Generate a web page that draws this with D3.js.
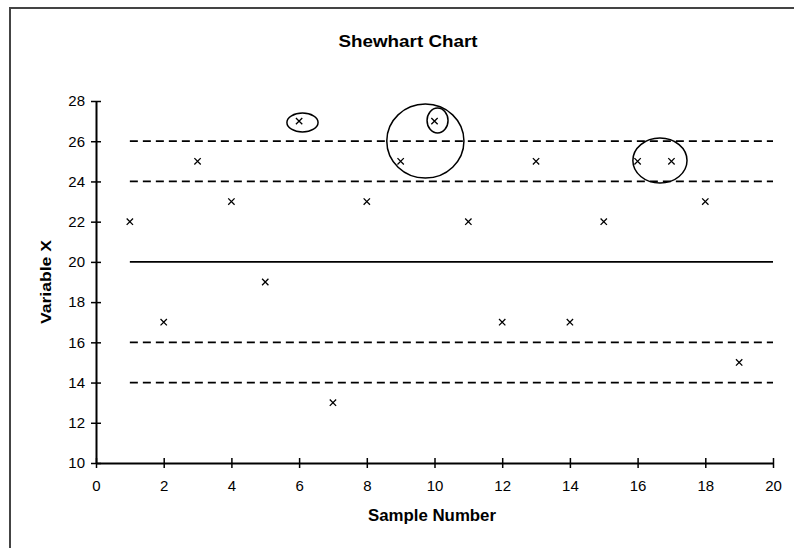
<!DOCTYPE html>
<html>
<head>
<meta charset="utf-8">
<script src="https://cdn.jsdelivr.net/npm/d3@7"></script>
<style>
  html, body { margin: 0; padding: 0; background: #fff; }
  svg { display: block; }
  text { font-family: "Liberation Sans", Arial, sans-serif; fill: #000; }
</style>
</head>
<body>
<svg id="chart" width="794" height="548"></svg>
<script>
// Sample numbers and measured values of variable X
const samples = [1, 2, 3, 4, 5, 6, 7, 8, 9, 10, 11, 12, 13, 14, 15, 16, 17, 18, 19];
const values  = [22, 17, 25, 23, 19, 27, 13, 23, 25, 27, 22, 17, 25, 17, 22, 25, 25, 23, 15];

// Centre line and control / warning limits
const centerLine = 20;
const limitLevels = [26, 24, 16, 14];
const lineStart = 1, lineEnd = 20;

// Axis ticks
const xTicks = [0, 2, 4, 6, 8, 10, 12, 14, 16, 18, 20];
const yTicks = [10, 12, 14, 16, 18, 20, 22, 24, 26, 28];

// Hand-drawn highlight rings, in data units: centre x, centre y, radius x, radius y
const ringCx = [6.1, 9.73, 10.09, 16.66];
const ringCy = [26.93, 26.01, 27.03, 25.04];
const ringRx = [0.46, 1.14, 0.31, 0.80];
const ringRy = [0.47, 1.84, 0.62, 1.12];

const svg = d3.select("#chart");

// Outer frame (runs off the right and bottom edges)
svg.append("rect")
  .attr("x", 10).attr("y", 8)
  .attr("width", 800).attr("height", 560)
  .attr("fill", "none").attr("stroke", "#444").attr("stroke-width", 2);

const x = d3.scaleLinear().domain([0, 20]).range([96, 773]);
const y = d3.scaleLinear().domain([10, 28]).range([463, 101]);

// Title
svg.append("text")
  .attr("x", 408).attr("y", 47)
  .attr("text-anchor", "middle")
  .attr("font-weight", "bold").attr("font-size", 17)
  .attr("textLength", 139).attr("lengthAdjust", "spacingAndGlyphs")
  .text("Shewhart Chart");

// Axes
const xAxis = d3.axisBottom(x).tickValues(xTicks).tickSizeInner(5).tickSizeOuter(0).tickPadding(12);
const yAxis = d3.axisLeft(y).tickValues(yTicks).tickSizeInner(5).tickSizeOuter(0).tickPadding(6);

const gx = svg.append("g").attr("transform", `translate(0,${y(10)})`).call(xAxis);
const gy = svg.append("g").attr("transform", `translate(${x(0)},0)`).call(yAxis);

[gx, gy].forEach(g => {
  g.select(".domain").attr("stroke", "#000").attr("stroke-width", 2);
  g.selectAll(".tick line").attr("stroke", "#000").attr("stroke-width", 1.5);
  g.selectAll(".tick text")
    .attr("font-size", 15)
    .attr("font-family", "'Liberation Sans', Arial, sans-serif");
});
// Ticks cross the axis line on both sides
gx.selectAll(".tick line").attr("y1", -5).attr("y2", 5);
gy.selectAll(".tick line").attr("x1", -5).attr("x2", 5);

// Axis titles
svg.append("text")
  .attr("x", 432).attr("y", 521)
  .attr("text-anchor", "middle")
  .attr("font-weight", "bold").attr("font-size", 16)
  .attr("textLength", 128).attr("lengthAdjust", "spacingAndGlyphs")
  .text("Sample Number");

svg.append("text")
  .attr("transform", `translate(51,${y(19)}) rotate(-90)`)
  .attr("text-anchor", "middle")
  .attr("font-weight", "bold").attr("font-size", 15)
  .attr("textLength", 84).attr("lengthAdjust", "spacingAndGlyphs")
  .text("Variable X");

// Limit lines (dashed) and centre line (solid)
svg.append("g").selectAll("line.limit")
  .data(limitLevels)
  .join("line")
  .attr("class", "limit")
  .attr("x1", x(lineStart)).attr("x2", x(lineEnd))
  .attr("y1", d => y(d)).attr("y2", d => y(d))
  .attr("stroke", "#000").attr("stroke-width", 1.8)
  .attr("stroke-dasharray", "8,5");

svg.append("line")
  .attr("x1", x(lineStart)).attr("x2", x(lineEnd))
  .attr("y1", y(centerLine)).attr("y2", y(centerLine))
  .attr("stroke", "#000").attr("stroke-width", 1.8);

// Sample points drawn as small x marks
const points = samples.map((s, i) => ({ s, v: values[i] }));
svg.append("g").selectAll("path.pt")
  .data(points)
  .join("path")
  .attr("class", "pt")
  .attr("transform", d => `translate(${x(d.s)},${y(d.v)})`)
  .attr("d", d3.symbol(d3.symbolX, 28))
  .attr("fill", "none").attr("stroke", "#000").attr("stroke-width", 1.3);

// Highlight rings around out-of-control runs
const rings = ringCx.map((cx, i) => ({ cx, cy: ringCy[i], rx: ringRx[i], ry: ringRy[i] }));
svg.append("g").selectAll("ellipse")
  .data(rings)
  .join("ellipse")
  .attr("cx", d => x(d.cx)).attr("cy", d => y(d.cy))
  .attr("rx", d => x(d.cx + d.rx) - x(d.cx))
  .attr("ry", d => y(d.cy) - y(d.cy + d.ry))
  .attr("fill", "none").attr("stroke", "#000").attr("stroke-width", 1.5);
</script>
</body>
</html>
